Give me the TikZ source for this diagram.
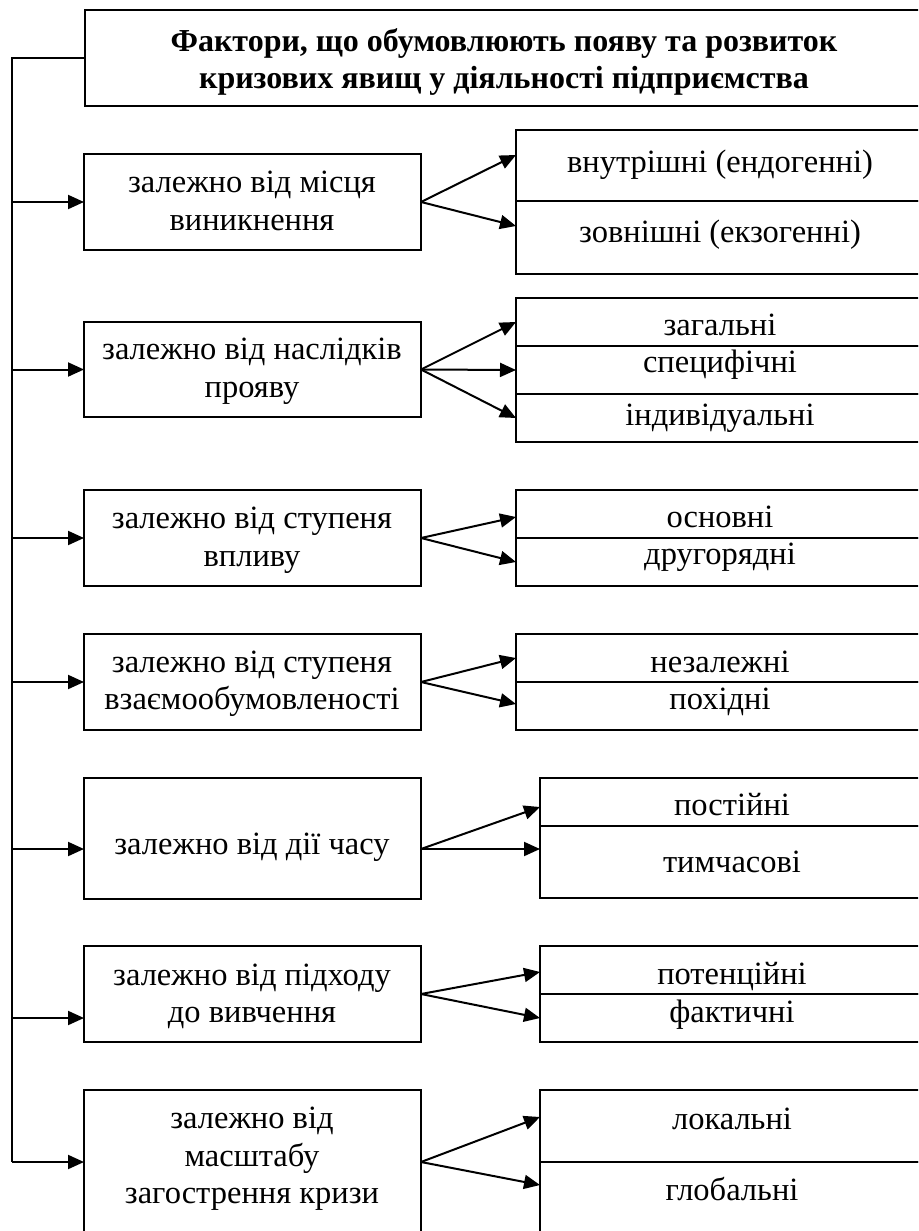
\documentclass[tikz,border=0pt]{standalone}
\usepackage{fontspec}
\setmainfont{Liberation Serif}
\usetikzlibrary{arrows.meta,calc}
\tikzset{
  box/.style={draw, line width=2pt, rectangle, inner sep=0pt, outer sep=0pt, anchor=north west},
  txt/.style={font=\fontsize{32.5}{37.5}\selectfont, align=center, inner sep=0pt},
  arr/.style={line width=2pt, -{Triangle[length=16pt,width=14pt]}},
  ln/.style={line width=2pt},
}
\begin{document}
\begin{tikzpicture}[x=1pt,y=-1pt]
\useasboundingbox (0,0) rectangle (918,1231);
\clip (0,0) rectangle (918,1231);
% title
\node[box, minimum width=840pt, minimum height=96pt] (title) at (85,10) {};
\node[txt, font=\fontsize{32}{37}\selectfont\bfseries] (ttl) at (504,62.5)
  {\strut Фактори, що обумовлюють появу та розвиток\\\strut кризових явищ у діяльності підприємства};
% left boxes
\node[box, minimum width=337pt, minimum height=96pt]  (b1) at (84,154) {};
\node[box, minimum width=337pt, minimum height=95pt]  (b2) at (84,322) {};
\node[box, minimum width=337pt, minimum height=96pt]  (b3) at (84,490) {};
\node[box, minimum width=337pt, minimum height=96pt]  (b4) at (84,634) {};
\node[box, minimum width=337pt, minimum height=121pt] (b5) at (84,778) {};
\node[box, minimum width=337pt, minimum height=96pt]  (b6) at (84,946) {};
\node[box, minimum width=337pt, minimum height=144pt] (b7) at (84,1090) {};
\node[txt] (t1) at (252,204) {\strut залежно від місця\\\strut виникнення};
\node[txt] (t2) at (252,371) {\strut залежно від наслідків\\\strut прояву};
\node[txt] (t3) at (252,540) {\strut залежно від ступеня\\\strut впливу};
\node[txt] (t4) at (252,683.5) {\strut залежно від ступеня\\\strut взаємообумовленості};
\node[txt] (t5) at (252,847) {\strut залежно від дії часу};
\node[txt] (t6) at (252,996.5) {\strut залежно від підходу\\\strut до вивчення};
\node[txt] (t7) at (252,1158.5) {\strut залежно від\\\strut масштабу\\\strut загострення кризи};
% right cells
\node[box, minimum width=420pt, minimum height=71pt] (c11) at (516,130) {};
\node[box, minimum width=420pt, minimum height=73pt] (c12) at (516,201) {};
\node[box, minimum width=420pt, minimum height=48pt] (c21) at (516,298) {};
\node[box, minimum width=420pt, minimum height=48pt] (c22) at (516,346) {};
\node[box, minimum width=420pt, minimum height=48pt] (c23) at (516,394) {};
\node[box, minimum width=420pt, minimum height=48pt] (c31) at (516,490) {};
\node[box, minimum width=420pt, minimum height=48pt] (c32) at (516,538) {};
\node[box, minimum width=420pt, minimum height=48pt] (c41) at (516,634) {};
\node[box, minimum width=420pt, minimum height=48pt] (c42) at (516,682) {};
\node[box, minimum width=400pt, minimum height=48pt] (c51) at (540,778) {};
\node[box, minimum width=400pt, minimum height=72pt] (c52) at (540,826) {};
\node[box, minimum width=400pt, minimum height=48pt] (c61) at (540,946) {};
\node[box, minimum width=400pt, minimum height=48pt] (c62) at (540,994) {};
\node[box, minimum width=400pt, minimum height=72pt] (c71) at (540,1090) {};
\node[box, minimum width=400pt, minimum height=78pt] (c72) at (540,1162) {};
\node[txt] (r11) at (720,165) {\strut внутрішні (ендогенні)};
\node[txt] (r12) at (720,235) {\strut зовнішні (екзогенні)};
\node[txt] (r21) at (720,328) {\strut загальні};
\node[txt] (r22) at (720,365) {\strut специфічні};
\node[txt] (r23) at (720,418) {\strut індивідуальні};
\node[txt] (r31) at (720,520) {\strut основні};
\node[txt] (r32) at (720,557) {\strut другорядні};
\node[txt] (r41) at (720,665) {\strut незалежні};
\node[txt] (r42) at (720,702) {\strut похідні};
\node[txt] (r51) at (732,808) {\strut постійні};
\node[txt] (r52) at (732,865) {\strut тимчасові};
\node[txt] (r61) at (732,977) {\strut потенційні};
\node[txt] (r62) at (732,1015) {\strut фактичні};
\node[txt] (r71) at (732,1122) {\strut локальні};
\node[txt] (r72) at (732,1193) {\strut глобальні};
% ports
\coordinate (b5in) at ([yshift=-10.5pt]b5.west);
\coordinate (b5out) at ([yshift=-10.5pt]b5.east);
\coordinate (b6in) at ([yshift=-24pt]b6.west);
% spine
\coordinate (sp) at (12,58);
\coordinate (spb) at (12,1162);
\draw[ln] (title.west) -- (sp) -- (spb);
\draw[arr] (spb) -- (b7.west);
\draw[arr] (sp |- b1.west) -- (b1.west);
\draw[arr] (sp |- b2.west) -- (b2.west);
\draw[arr] (sp |- b3.west) -- (b3.west);
\draw[arr] (sp |- b4.west) -- (b4.west);
\draw[arr] (sp |- b5in) -- (b5in);
\draw[arr] (sp |- b6in) -- (b6in);
% branches
\draw[arr] (b1.east) -- ([yshift=10.5pt]c11.west);
\draw[arr] (b1.east) -- ([yshift=11.5pt]c12.west);
\draw[arr] (b2.east) -- (c21.west);
\draw[arr] (b2.east) -- (c22.west);
\draw[arr] (b2.east) -- (c23.west);
\draw[arr] (b3.east) -- ([yshift=-3pt]c31.west);
\draw[arr] (b3.east) -- (c32.west);
\draw[arr] (b4.east) -- (c41.west);
\draw[arr] (b4.east) -- ([yshift=2pt]c42.west);
\draw[arr] (b5out) -- ([yshift=-5pt]c51.west);
\draw[arr] (b5out) -- ([yshift=13pt]c52.west);
\draw[arr] (b6.east) -- ([yshift=-2pt]c61.west);
\draw[arr] (b6.east) -- (c62.west);
\draw[arr] (b7.east) -- ([yshift=9pt]c71.west);
\draw[arr] (b7.east) -- ([yshift=16pt]c72.west);
\end{tikzpicture}
\end{document}
